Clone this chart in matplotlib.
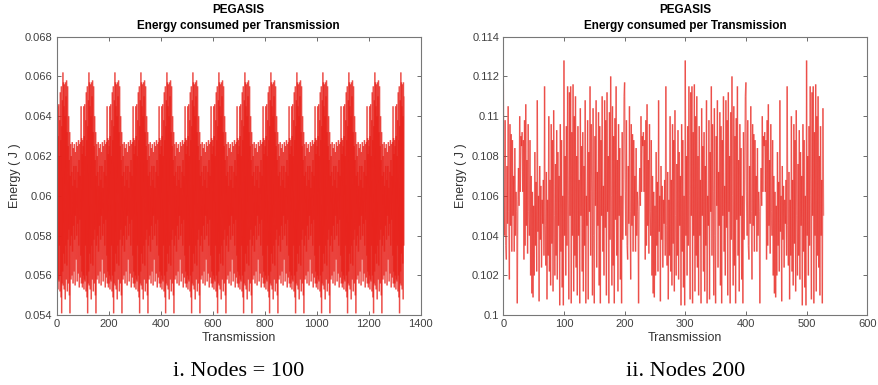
import numpy as np
import matplotlib.pyplot as plt
from matplotlib.collections import LineCollection
from matplotlib.ticker import FuncFormatter

plt.rcParams["font.family"] = ["Liberation Sans", "DejaVu Sans"]

# energy per transmission over one chain cycle (100 nodes, repeats every 100 transmissions)
cycle_100 = [
    0.0628, 0.0556, 0.0625, 0.0560, 0.0645, 0.0553, 0.0630, 0.0558, 0.0646, 0.0557,
    0.0620, 0.0575, 0.0638, 0.0552, 0.0652, 0.0560, 0.0628, 0.0549, 0.0655, 0.0541,
    0.0635, 0.0556, 0.0648, 0.0562, 0.0662, 0.0555, 0.0657, 0.0571, 0.0645, 0.0553,
    0.0656, 0.0566, 0.0640, 0.0548, 0.0657, 0.0575, 0.0650, 0.0558, 0.0658, 0.0565,
    0.0632, 0.0552, 0.0655, 0.0578, 0.0625, 0.0556, 0.0640, 0.0583, 0.0618, 0.0550,
    0.0632, 0.0541, 0.0610, 0.0575, 0.0626, 0.0558, 0.0620, 0.0580, 0.0612, 0.0560,
    0.0627, 0.0572, 0.0605, 0.0556, 0.0624, 0.0585, 0.0615, 0.0562, 0.0626, 0.0578,
    0.0608, 0.0555, 0.0622, 0.0590, 0.0615, 0.0568, 0.0627, 0.0580, 0.0604, 0.0557,
    0.0625, 0.0586, 0.0612, 0.0561, 0.0628, 0.0575, 0.0618, 0.0554, 0.0626, 0.0588,
    0.0610, 0.0559, 0.0627, 0.0570, 0.0645, 0.0556, 0.0629, 0.0562, 0.0621, 0.0554,
]
n_trans_100 = 1337

# energy per transmission over one chain cycle (200 nodes, repeats every 200 transmissions)
cycle_200 = [
    0.1117, 0.1062, 0.1040, 0.1098, 0.1035, 0.1028, 0.1075, 0.1046, 0.1105, 0.1052,
    0.1018, 0.1096, 0.1045, 0.1091, 0.1032, 0.1088, 0.1050, 0.1070, 0.1032, 0.1084,
    0.1040, 0.1062, 0.1052, 0.1006, 0.1058, 0.1074, 0.1055, 0.1100, 0.1062, 0.1090,
    0.1085, 0.1092, 0.1062, 0.1088, 0.1028, 0.1098, 0.1035, 0.1106, 0.1045, 0.1078,
    0.1031, 0.1096, 0.1052, 0.1040, 0.1088, 0.1020, 0.1070, 0.1011, 0.1062, 0.1009,
    0.1055, 0.1020, 0.1082, 0.1035, 0.1067, 0.1022, 0.1108, 0.1042, 0.1060, 0.1007,
    0.1075, 0.1038, 0.1065, 0.1024, 0.1058, 0.1046, 0.1068, 0.1030, 0.1115, 0.1045,
    0.1025, 0.1072, 0.1008, 0.1058, 0.1030, 0.1100, 0.1022, 0.1068, 0.1015, 0.1096,
    0.1036, 0.1088, 0.1012, 0.1103, 0.1050, 0.1020, 0.1076, 0.1030, 0.1093, 0.1018,
    0.1082, 0.1045, 0.1070, 0.1005, 0.1096, 0.1032, 0.1088, 0.1014, 0.1060, 0.1005,
    0.1128, 0.1040, 0.1080, 0.1020, 0.1095, 0.1035, 0.1115, 0.1060, 0.1008, 0.1112,
    0.1050, 0.1115, 0.1006, 0.1092, 0.1040, 0.1116, 0.1012, 0.1100, 0.1030, 0.1110,
    0.1024, 0.1080, 0.1010, 0.1095, 0.1040, 0.1068, 0.1006, 0.1104, 0.1050, 0.1085,
    0.1022, 0.1092, 0.1012, 0.1075, 0.1035, 0.1108, 0.1006, 0.1060, 0.1045, 0.1098,
    0.1008, 0.1082, 0.1052, 0.1115, 0.1030, 0.1096, 0.1062, 0.1010, 0.1104, 0.1040,
    0.1006, 0.1090, 0.1055, 0.1108, 0.1024, 0.1072, 0.1045, 0.1102, 0.1015, 0.1095,
    0.1006, 0.1088, 0.1050, 0.1110, 0.1032, 0.1065, 0.1020, 0.1108, 0.1044, 0.1098,
    0.1010, 0.1112, 0.1052, 0.1080, 0.1006, 0.1102, 0.1038, 0.1120, 0.1060, 0.1015,
    0.1105, 0.1025, 0.1090, 0.1006, 0.1099, 0.1048, 0.1115, 0.1030, 0.1078, 0.1012,
    0.1096, 0.1050, 0.1084, 0.1018, 0.1060, 0.1006, 0.1092, 0.1038, 0.1068, 0.1110,
]
n_trans_200 = 529

panels = [
    dict(cycle=cycle_100, n=n_trans_100, xlim=(0, 1400), xticks=np.arange(0, 1401, 200),
         ylim=(0.054, 0.068), caption="i. Nodes = 100", left=0.0645),
    dict(cycle=cycle_200, n=n_trans_200, xlim=(0, 600), xticks=np.arange(0, 601, 100),
         ylim=(0.100, 0.114), caption="ii. Nodes 200", left=0.5726),
]

fig = plt.figure(figsize=(8.79, 3.85), dpi=100)

for p in panels:
    ax = fig.add_axes([p["left"], 0.181, 0.414, 0.724])
    reps = p["n"] // len(p["cycle"]) + 1
    energy = np.tile(p["cycle"], reps)[:p["n"]]
    x = np.arange(p["n"])
    # segments drawn separately so overlapping strokes build up a darker red
    pts = np.column_stack([x, energy]).reshape(-1, 1, 2)
    segs = np.concatenate([pts[:-1], pts[1:]], axis=1)
    ax.add_collection(LineCollection(segs, colors="#e8221b", linewidths=1.0, alpha=0.55))

    ax.set_xlim(*p["xlim"])
    ax.set_ylim(*p["ylim"])
    ax.set_xticks(p["xticks"])
    ax.set_yticks(np.arange(p["ylim"][0], p["ylim"][1] + 1e-9, 0.002))
    ax.yaxis.set_major_formatter(FuncFormatter(lambda v, _: f"{round(v, 3):g}"))
    ax.tick_params(direction="in", length=3, width=0.6, top=True, right=True,
                   labelsize=8, labelcolor="#404040", color="#555555", pad=3)
    for s in ax.spines.values():
        s.set_color("#777777")
        s.set_linewidth(0.8)

    ax.text(0.5, 1.096, "PEGASIS", transform=ax.transAxes, ha="center", va="center",
            fontsize=8.5, fontweight="bold")
    ax.text(0.5, 1.038, "Energy consumed per Transmission", transform=ax.transAxes,
            ha="center", va="center", fontsize=8.5, fontweight="bold")
    ax.set_xlabel("Transmission", fontsize=9, color="#333333", labelpad=2)
    ax.set_ylabel("Energy ( J )", fontsize=9, color="#333333", labelpad=3)
    ax.text(0.5, -0.20, p["caption"], transform=ax.transAxes, ha="center", va="center",
            fontsize=16, family=["Liberation Serif", "DejaVu Serif"])

fig.savefig("out.png", dpi=100)
